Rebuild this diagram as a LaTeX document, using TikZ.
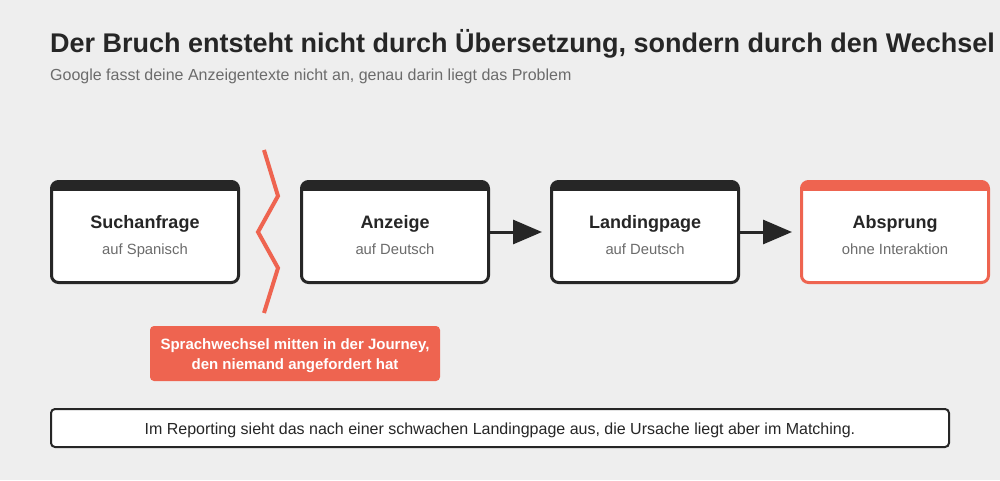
\documentclass[tikz,border=0pt]{standalone}
\usepackage{fontspec}
\setmainfont{Liberation Sans}
\usetikzlibrary{arrows.meta}
\definecolor{bg}{HTML}{EEEEEE}
\definecolor{ink}{HTML}{262626}
\definecolor{subgray}{HTML}{6B6B6B}
\definecolor{accent}{HTML}{EE6450}
\begin{document}
\begin{tikzpicture}[x=1pt,y=-1pt,
  stepbox/.style={draw=ink,line width=3pt,fill=white,rounded corners=7pt,minimum width=187pt,minimum height=101pt,inner sep=0pt},
  redbox/.style={stepbox,draw=accent},
  boxtitle/.style={font=\bfseries\fontsize{18}{22}\selectfont,text=ink,anchor=base,inner sep=0pt},
  boxsub/.style={font=\fontsize{14.8}{17}\selectfont,text=subgray,anchor=base,inner sep=0pt},
  flow/.style={draw=ink,line width=3pt,-{Triangle[length=29pt,width=24pt]},shorten >=8pt}]
\fill[bg] (0,0) rectangle (1000,480);
\useasboundingbox (0,0) rectangle (1000,480);
% title
\node[anchor=base west,inner sep=0pt,font=\bfseries\fontsize{27}{30}\selectfont,text=ink] (title) at (50,52) {Der Bruch entsteht nicht durch Übersetzung, sondern durch den Wechsel};
\node[anchor=base west,inner sep=0pt,font=\fontsize{16}{19}\selectfont,text=subgray] (subtitle) at (50,80) {Google fasst deine Anzeigentexte nicht an, genau darin liegt das Problem};
% boxes
\node[stepbox] (b1) at (145,232) {};
\node[stepbox] (b2) at (395,232) {};
\node[stepbox] (b3) at (645,232) {};
\node[redbox] (b4) at (895,232) {};
\foreach \n/\c in {b1/ink,b2/ink,b3/ink,b4/accent}{
  \fill[\c] ([xshift=3pt,yshift=-2.5pt]\n.north west) rectangle ([xshift=-3pt,yshift=-10.5pt]\n.north east);
}
\node[boxtitle] (t1) at ([yshift=3.5pt]b1.center) {Suchanfrage};
\node[boxsub] (s1) at ([yshift=-22pt]b1.center) {auf Spanisch};
\node[boxtitle] (t2) at ([yshift=3.5pt]b2.center) {Anzeige};
\node[boxsub] (s2) at ([yshift=-22pt]b2.center) {auf Deutsch};
\node[boxtitle] (t3) at ([yshift=3.5pt]b3.center) {Landingpage};
\node[boxsub] (s3) at ([yshift=-22pt]b3.center) {auf Deutsch};
\node[boxtitle] (t4) at ([yshift=3.5pt]b4.center) {Absprung};
\node[boxsub] (s4) at ([yshift=-22pt]b4.center) {ohne Interaktion};
% arrows
\draw[flow] (b2.east) -- (b3.west);
\draw[flow] (b3.east) -- (b4.west);
% zigzag break
\coordinate (z1) at (264,150);
\coordinate (z2) at (278,196);
\coordinate (z3) at (258,232);
\coordinate (z4) at (278,268);
\coordinate (z5) at (264,313);
\draw[accent,line width=4pt,line join=miter] (z1) -- (z2) -- (z3) -- (z4) -- (z5);
% callout
\node[fill=accent,rounded corners=4pt,minimum width=290pt,minimum height=55pt,inner sep=0pt] (callout) at (295,353.5) {};
\node[inner sep=0pt,align=center,text=white,font=\bfseries\fontsize{15}{20}\selectfont] (callouttext) at (295,355.5) {Sprachwechsel mitten in der Journey,\\den niemand angefordert hat};
% bottom note
\node[draw=ink,line width=2pt,fill=white,rounded corners=4pt,minimum width=898pt,minimum height=38pt,inner sep=0pt,text=ink] (note) at (500,428) {};
\node[anchor=base,inner sep=0pt,font=\fontsize{16}{19}\selectfont,text=ink] (notetext) at (500,434) {Im Reporting sieht das nach einer schwachen Landingpage aus, die Ursache liegt aber im Matching.};
\end{tikzpicture}
\end{document}
